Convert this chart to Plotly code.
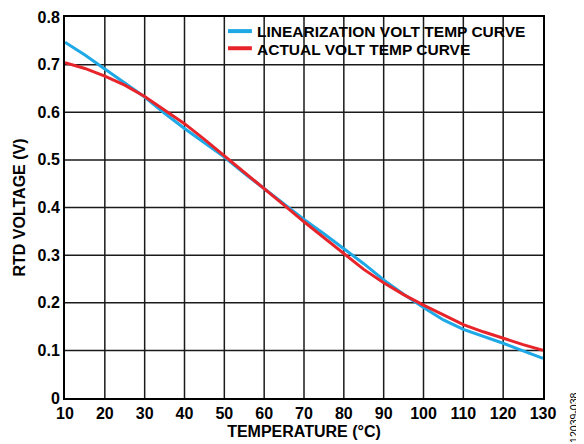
import plotly.graph_objects as go

temperature = [10, 15, 20, 25, 30, 35, 40, 45, 50, 55, 60, 65, 70, 75, 80, 85, 90, 95, 100, 105, 110, 115, 120, 125, 130]
linearization = [0.747, 0.720, 0.691, 0.662, 0.632, 0.598, 0.566, 0.536, 0.506, 0.472, 0.440, 0.408, 0.375, 0.345, 0.314,
                 0.282, 0.248, 0.218, 0.190, 0.164, 0.144, 0.130, 0.115, 0.099, 0.083]
actual = [0.704, 0.692, 0.676, 0.657, 0.633, 0.605, 0.576, 0.543, 0.509, 0.475, 0.440, 0.405, 0.370, 0.336, 0.303,
          0.270, 0.242, 0.217, 0.195, 0.174, 0.154, 0.139, 0.125, 0.112, 0.100]
series_names = ["LINEARIZATION VOLT TEMP CURVE", "ACTUAL VOLT TEMP CURVE"]
series_colors = ["#1EA8E6", "#E8242B"]
x_ticks = [10, 20, 30, 40, 50, 60, 70, 80, 90, 100, 110, 120, 130]
y_ticks = [0, 0.1, 0.2, 0.3, 0.4, 0.5, 0.6, 0.7, 0.8]
y_tick_labels = ["0", "0.1", "0.2", "0.3", "0.4", "0.5", "0.6", "0.7", "0.8"]

FONT = "Liberation Sans, Arial, sans-serif"
BOLD = dict(family=FONT, size=16, color="black", weight="bold")
LEG = dict(family=FONT, size=15.5, color="black", weight="bold")
GRID = dict(color="#1a1a1a", width=1.5)

fig = go.Figure()
for yv, nm, col in zip([linearization, actual], series_names, series_colors):
    fig.add_trace(go.Scatter(x=temperature, y=yv, mode="lines", name=nm,
                             showlegend=False, line=dict(color=col, width=3)))

x_min, x_max = x_ticks[0], x_ticks[-1]
y_min, y_max = y_ticks[0], y_ticks[-1]

# Page body has an 8px margin; compensate so plot area sits at x 65..543, y 17..398
fig.update_layout(
    width=576, height=436,
    margin=dict(l=57, r=41, t=9, b=46, autoexpand=False),
    paper_bgcolor="white", plot_bgcolor="white",
    font=BOLD,
    xaxis=dict(range=[x_min, x_max], tickvals=x_ticks, ticks="", showgrid=False,
               showline=True, linecolor="black",
               linewidth=2, mirror=True, zeroline=False, automargin=False,
               tickfont=BOLD,
               title=dict(text="TEMPERATURE (°C)", standoff=5, font=BOLD)),
    yaxis=dict(range=[y_min, y_max], tickvals=y_ticks, ticktext=y_tick_labels, ticks="",
               showgrid=False, showline=True,
               linecolor="black", linewidth=2, mirror=True, zeroline=False,
               automargin=False, tickfont=BOLD,
               title=dict(text="RTD VOLTAGE (V)", standoff=8, font=BOLD)),
)

# Grid lines (drawn as shapes so the legend box can sit over them)
for xv in x_ticks[1:-1]:
    fig.add_shape(type="line", xref="x", yref="y", x0=xv, x1=xv, y0=y_min, y1=y_max,
                  line=GRID, layer="below")
for yv in y_ticks[1:-1]:
    fig.add_shape(type="line", xref="x", yref="y", x0=x_min, x1=x_max, y0=yv, y1=yv,
                  line=GRID, layer="below")

# Legend: white box over the grid, line samples and labels
fig.add_shape(type="rect", xref="x domain", yref="y domain", x0=0.337, x1=0.996, y0=0.893, y1=0.997,
              fillcolor="white", line=dict(width=0), layer="below")
leg_y = [0.963, 0.918]
for yy, nm, col in zip(leg_y, series_names, series_colors):
    fig.add_shape(type="line", xref="x domain", yref="y domain", x0=0.341, x1=0.391, y0=yy, y1=yy,
                  line=dict(color=col, width=4), layer="above")
    fig.add_annotation(text=nm, xref="paper", yref="paper", x=0.397, y=yy - 0.002,
                       xanchor="left", yanchor="middle", showarrow=False, font=LEG)

fig.add_annotation(text="12039-038", xref="paper", yref="paper", x=1.065, y=-0.052,
                   xanchor="center", yanchor="middle", textangle=-90, showarrow=False,
                   font=dict(family=FONT, size=10.5, weight="normal", color="black"))

fig.write_html("out.html")
